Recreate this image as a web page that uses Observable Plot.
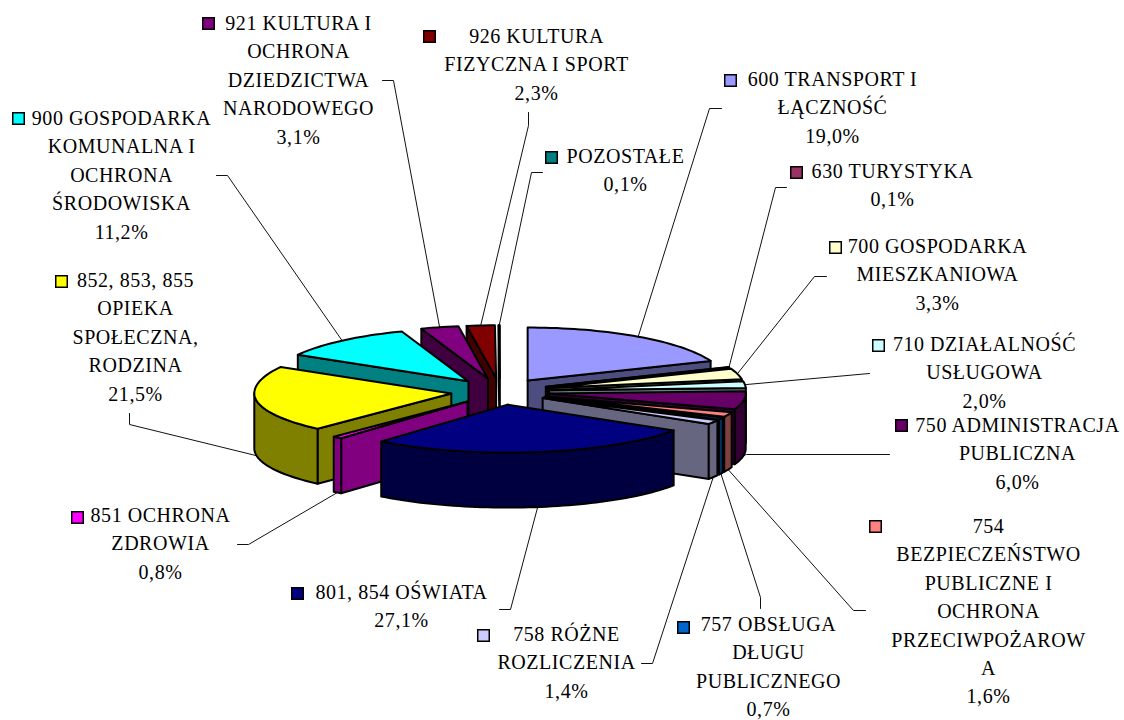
<!DOCTYPE html>
<html>
<head>
<meta charset="utf-8">
<style>html,body{margin:0;padding:0;background:#fff}svg{display:block}</style>
<script src="https://cdn.jsdelivr.net/npm/d3@7"></script>
<script src="https://cdn.jsdelivr.net/npm/@observablehq/plot@0.6"></script>
</head>
<body>
<div id="chart"></div>
<script>
// ---- data, clockwise from twelve o'clock ----
const codes = ["600","630","700","710","750","754","757","758","801","851","852","900","921","926","poz"];
const values = [19.0,0.1,3.3,2.0,6.0,1.6,0.7,1.4,27.1,0.8,21.5,11.2,3.1,2.3,0.1];
const percentLabels = ["19,0%","0,1%","3,3%","2,0%","6,0%","1,6%","0,7%","1,4%","27,1%","0,8%","21,5%","11,2%","3,1%","2,3%","0,1%"];
const names = [
  ["600 TRANSPORT I","ŁĄCZNOŚĆ"],
  ["630 TURYSTYKA"],
  ["700 GOSPODARKA","MIESZKANIOWA"],
  ["710 DZIAŁALNOŚĆ","USŁUGOWA"],
  ["750 ADMINISTRACJA","PUBLICZNA"],
  ["754","BEZPIECZEŃSTWO","PUBLICZNE I","OCHRONA","PRZECIWPOŻAROW","A"],
  ["757 OBSŁUGA","DŁUGU","PUBLICZNEGO"],
  ["758 RÓŻNE","ROZLICZENIA"],
  ["801, 854 OŚWIATA"],
  ["851 OCHRONA","ZDROWIA"],
  ["852, 853, 855","OPIEKA","SPOŁECZNA,","RODZINA"],
  ["900 GOSPODARKA","KOMUNALNA I","OCHRONA","ŚRODOWISKA"],
  ["921 KULTURA I","OCHRONA","DZIEDZICTWA","NARODOWEGO"],
  ["926 KULTURA","FIZYCZNA I SPORT"],
  ["POZOSTAŁE"]
];
const topColors = ["#9999FF","#993366","#FFFFCC","#CCFFFF","#660066","#FF8080","#0066CC","#CCCCFF","#000080","#FF00FF","#FFFF00","#00FFFF","#800080","#800000","#008080"];
const sideColors = ["#4D4D80","#4D1A33","#808066","#668080","#330033","#804040","#003366","#666680","#000040","#800080","#808000","#008080","#400040","#400000","#004040"];

// ---- layout (separate from the values) ----
const view = {cx: 499.5, cy: 391, a: 197, bBack: 53, bFront: 48, depth: 55, explode: 0.25};
const paintOrder = ["poz","926","921","900","852","851","600","630","700","710","750","754","757","758","801"];
const labelLayout = {
  "600": {key:[730,80],  tx:832,  ty:79,  leader:[[721,108],[709,108]]},
  "630": {key:[796,172], tx:892,  ty:171, leader:[[786,187],[775,187]]},
  "700": {key:[835,247], tx:937,  ty:246, leader:[[826,276],[814,276]]},
  "710": {key:[878,345], tx:984,  ty:344, leader:[[869,373]]},
  "750": {key:[901,425], tx:1017, ty:425, leader:[[889,454],[746,454]]},
  "754": {key:[875,526], tx:988,  ty:526, leader:[[865,610],[853,610]]},
  "757": {key:[683,627], tx:768,  ty:624, leader:[[760,608],[760,597]]},
  "758": {key:[483,635], tx:566,  ty:634, leader:[[641,663],[652,663]]},
  "801": {key:[297,593], tx:401,  ty:592, leader:[[499,609],[510,609]]},
  "851": {key:[77,517],  tx:160,  ty:515, leader:[[237,544],[248,544]]},
  "852": {key:[61,281],  tx:135,  ty:280, leader:[[129,413],[129,424]]},
  "900": {key:[18,118],  tx:121,  ty:118, leader:[[216,175],[227,175]]},
  "921": {key:[208,23],  tx:298,  ty:23,  leader:[[382,80],[393,80]]},
  "926": {key:[429,36],  tx:536,  ty:36,  leader:[[528,112],[528,125]]},
  "poz": {key:[551,157], tx:625,  ty:156, leader:[[542,172],[531,172]]}
};
const lineStep = 28.4;

// ---- build slices ----
const arcs = d3.pie().sort(null).value(d => d).startAngle(0).endAngle(2 * Math.PI)(values);
const slices = codes.map((code, i) => {
  const {startAngle: a0, endAngle: a1} = arcs[i];
  const mid = (a0 + a1) / 2;
  const ox = view.cx + view.explode * view.a * Math.sin(mid);
  const oy = view.cy - view.explode * view.bBack * Math.cos(mid);
  const pt = t => {
    const c = Math.cos(t);
    return [ox + view.a * Math.sin(t), oy - (c < 0 ? view.bFront : view.bBack) * c];
  };
  return {code, i, a0, a1, mid, ox, oy, pt};
});
const arcPts = (s, t0, t1) => {
  const n = Math.max(2, Math.ceil((t1 - t0) / 0.03));
  return d3.range(n + 1).map(k => s.pt(t0 + (t1 - t0) * k / n));
};
const faces = [];
const addFace = (id, color, pts) => {
  [...pts, pts[0]].forEach(p => faces.push({face: id, color, x: p[0], y: p[1]}));
};
const down = p => [p[0], p[1] + view.depth];
paintOrder.forEach(code => {
  const s = slices.find(d => d.code === code);
  const side = sideColors[s.i], top = topColors[s.i];
  const o = [s.ox, s.oy];
  if (Math.sin(s.a0) < 0) {
    const p = s.pt(s.a0);
    addFace(code + "-w0", side, [o, p, down(p), down(o)]);
  }
  if (Math.sin(s.a1) > 0) {
    const p = s.pt(s.a1);
    addFace(code + "-w1", side, [o, p, down(p), down(o)]);
  }
  const f0 = Math.max(s.a0, Math.PI / 2), f1 = Math.min(s.a1, 3 * Math.PI / 2);
  if (f1 > f0) {
    const pts = arcPts(s, f0, f1);
    addFace(code + "-o", side, [...pts, ...pts.slice().reverse().map(down)]);
  }
  addFace(code + "-t", top, [o, ...arcPts(s, s.a0, s.a1)]);
});

// ---- labels, keys, leaders ----
const texts = [], keys = [], leaders = [];
slices.forEach(s => {
  const l = labelLayout[s.code];
  const lines = [...names[s.i], percentLabels[s.i]];
  lines.forEach((t, k) => texts.push({t, x: l.tx, y: l.ty + k * lineStep}));
  keys.push({x: l.key[0], y: l.key[1], color: topColors[s.i]});
  const m = s.pt(s.mid);
  const end = Math.cos(s.mid) < 0 ? down(m) : m;
  [...l.leader, end].forEach(p => leaders.push({id: s.code, x: p[0], y: p[1]}));
});

const chart = Plot.plot({
  width: 1124,
  height: 720,
  margin: 0,
  x: {domain: [0, 1124], range: [0, 1124], axis: null},
  y: {domain: [0, 720], range: [0, 720], axis: null},
  color: {type: "identity"},
  style: {background: "#fff", letterSpacing: "0.55px"},
  marks: [
    Plot.line(leaders, {x: "x", y: "y", z: "id", stroke: "#111", strokeWidth: 1}),
    Plot.line(faces, {x: "x", y: "y", z: "face", fill: "color", stroke: "#000", strokeWidth: 2, strokeLinejoin: "round"}),
    Plot.dot(keys, {x: "x", y: "y", symbol: "square", r: 6.5, fill: "color", stroke: "#000", strokeWidth: 1.5}),
    Plot.text(texts, {x: "x", y: "y", text: "t", fontFamily: "Liberation Serif", fontSize: 20, fill: "#000", textAnchor: "middle"})
  ]
});
document.getElementById("chart").append(chart);
</script>
</body>
</html>
